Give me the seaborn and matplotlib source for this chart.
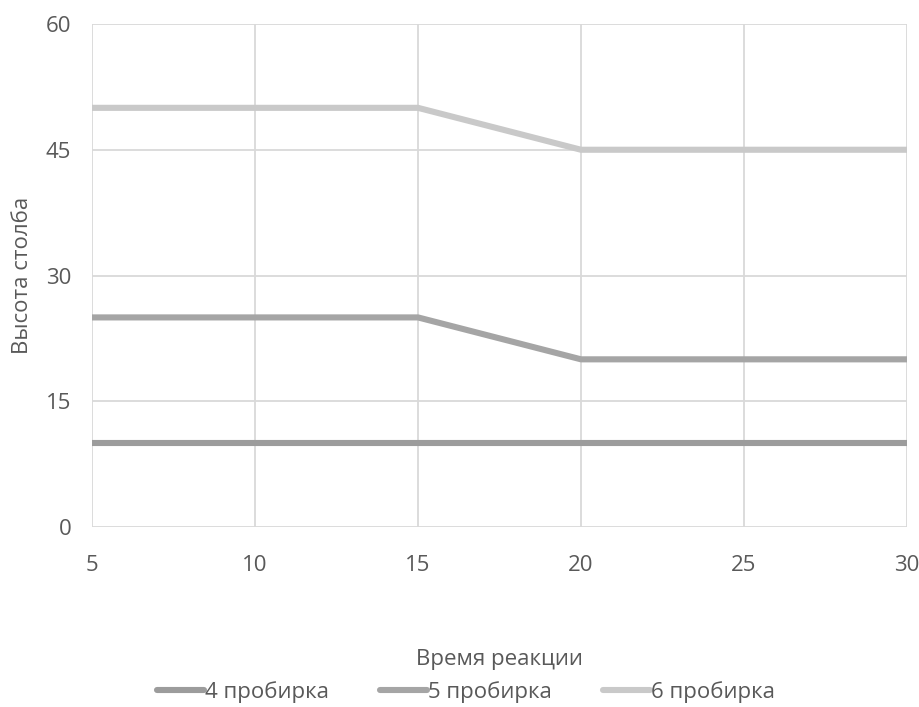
import matplotlib
matplotlib.use("Agg")
import matplotlib.pyplot as plt
import seaborn as sns
import pandas as pd
from matplotlib.lines import Line2D

time = [5, 10, 15, 20, 25, 30]
tube4 = [10, 10, 10, 10, 10, 10]
tube5 = [25, 25, 25, 20, 20, 20]
tube6 = [50, 50, 50, 45, 45, 45]
series_names = ["4 пробирка", "5 пробирка", "6 пробирка"]
colors = ["#9c9c9c", "#a5a5a5", "#c9c9c9"]

df = pd.DataFrame({"x": time * 3,
                   "y": tube4 + tube5 + tube6,
                   "s": [series_names[0]] * 6 + [series_names[1]] * 6 + [series_names[2]] * 6})

sns.set_theme(style="white")
plt.rcParams['font.family'] = ['Open Sans', 'DejaVu Sans']

fig = plt.figure(figsize=(9.2, 7.07), dpi=100)
ax = fig.add_axes([92/920, 1 - 527/707, (907-92)/920, (527-24)/707])

sns.lineplot(data=df, x="x", y="y", hue="s", palette=colors, linewidth=4.4,
             ax=ax, legend=False, zorder=3)

ax.set_xlim(5, 30)
ax.set_ylim(0, 60)
ax.set_xticks([5, 10, 15, 20, 25, 30])
ax.set_yticks([0, 15, 30, 45, 60])
ax.grid(True, color="#d9d9d9", linewidth=1.3, zorder=0)
for sp in ax.spines.values():
    sp.set_visible(False)
fs = 16
ax.tick_params(axis="both", length=0, labelsize=fs, colors="#595959")
ax.tick_params(axis="y", pad=15)
ax.tick_params(axis="x", pad=20)
ax.set_xlabel("Время реакции", fontsize=fs, color="#595959")
ax.set_ylabel("Высота столба", fontsize=fs, color="#595959")
ax.xaxis.set_label_coords(0.5, (527 - 649) / 503)
ax.yaxis.set_label_coords((33 - 92) / 815, 0.5)

handles = [Line2D([], [], color=c, linewidth=4.4) for c in colors]
fig.legend(handles, series_names, loc="center", bbox_to_anchor=(466/920, 1 - 692/707),
           ncol=3, frameon=False, fontsize=fs, handlelength=2.1, handletextpad=0.05,
           columnspacing=2.3, labelcolor="#595959")

fig.savefig("out.png", dpi=100)
